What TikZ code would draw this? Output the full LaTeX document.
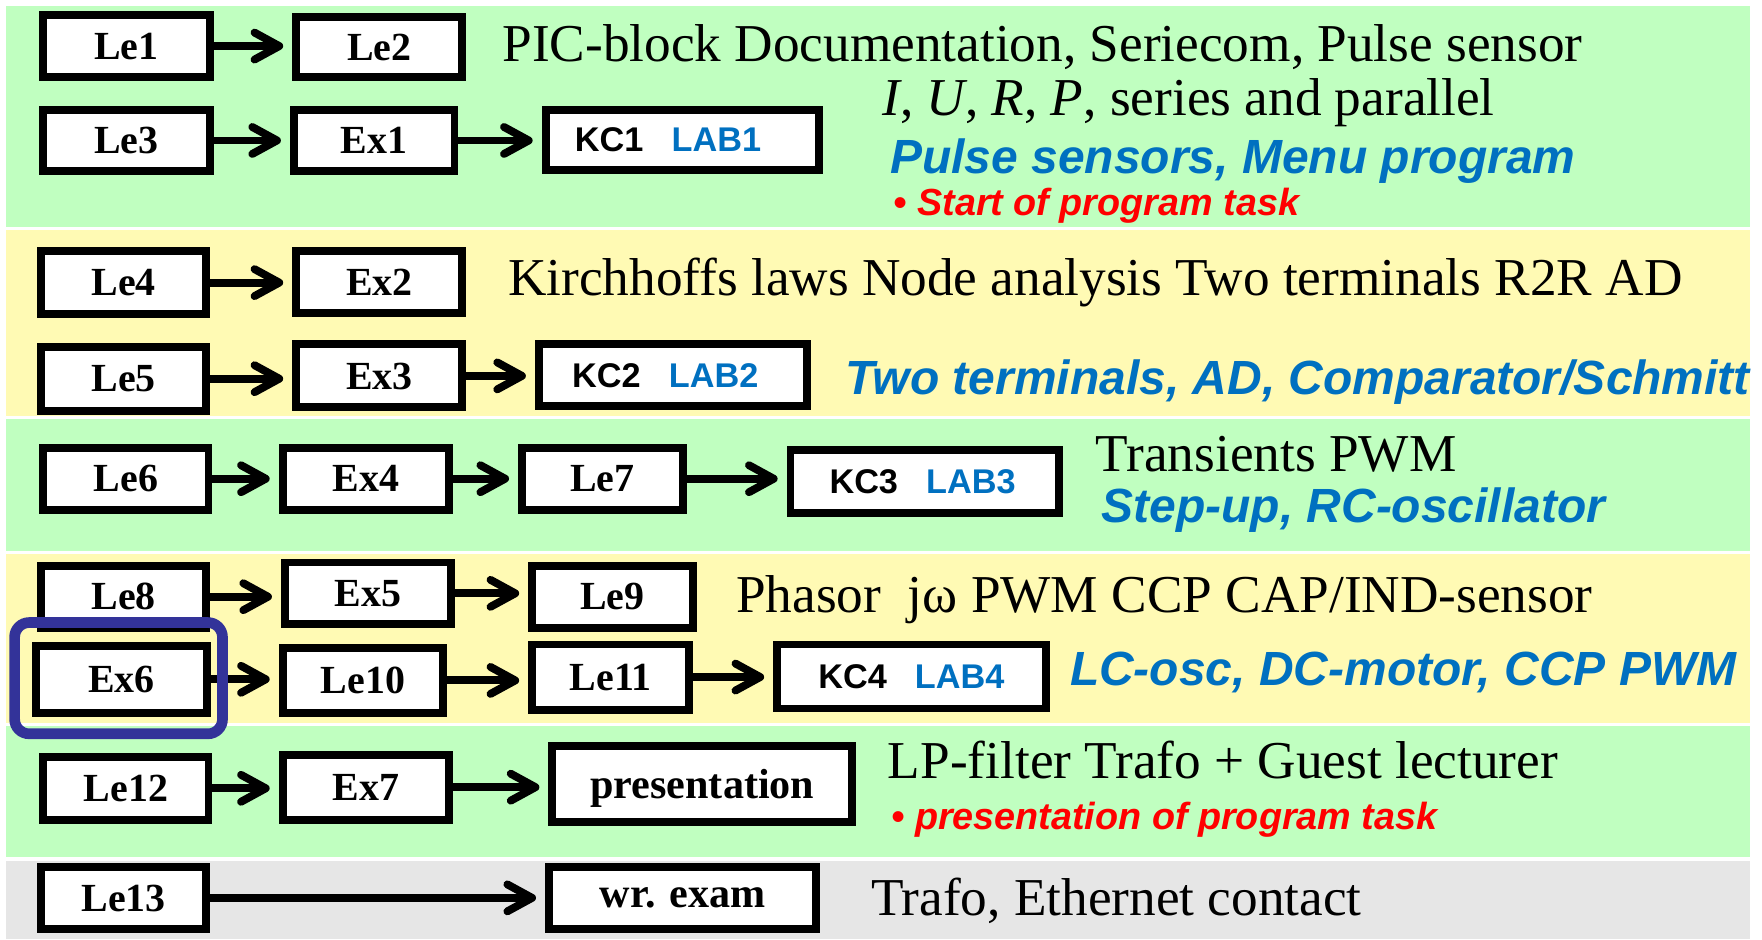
\documentclass[tikz,border=0pt]{standalone}
\usepackage{fontspec}
\setmainfont{Liberation Serif}
\setsansfont{Liberation Sans}
\usetikzlibrary{arrows.meta}
\definecolor{bandgreen}{RGB}{192,255,192}
\definecolor{bandyellow}{RGB}{255,250,180}
\definecolor{bandgrey}{RGB}{230,230,230}
\definecolor{labblue}{RGB}{0,112,192}
\definecolor{markblue}{RGB}{51,51,153}
\definecolor{noteRed}{RGB}{255,0,0}
\newcommand\boxfont{\fontsize{35.5}{38}\selectfont\bfseries}
\newcommand\bigboxfont{\fontsize{37.5}{40}\selectfont\bfseries}
\newcommand\kcfont{\fontsize{30.5}{34}\selectfont\sffamily\bfseries}
\newcommand\mainfont{\fontsize{47.4}{50}\selectfont}
\newcommand\bluefont{\fontsize{42.7}{46}\selectfont\sffamily\bfseries\itshape\color{labblue}}
\newcommand\redfont{\fontsize{33.6}{36}\selectfont\sffamily\bfseries\itshape\color{noteRed}}
% course-component label: black code, blue lab name, trailing shift
\newcommand\kc[3]{{\kcfont #1\hspace{0.82em}\color{labblue}#2}\hspace*{#3}}
\tikzset{
  stage/.style={draw=black, fill=white, line width=7pt, inner sep=0pt,
    minimum width=148pt, minimum height=55pt, font=\boxfont, text depth=0pt},
  flow/.style={line width=7pt, shorten >=8pt,
    -{Straight Barb[length=22pt,width=24pt,round]}},
  note/.style={anchor=base west, inner sep=0pt},
}
\begin{document}
\begin{tikzpicture}[x=1pt, y=-1pt]
\useasboundingbox (0,0) rectangle (1568,836);
% background bands
\fill[bandgreen]  (5,5)   rectangle (1557,202);
\fill[bandyellow] (5,205) rectangle (1557,370);
\fill[bandgreen]  (5,373) rectangle (1557,490);
\fill[bandyellow] (5,493) rectangle (1557,643);
\fill[bandgreen]  (5,646) rectangle (1557,763);
\fill[bandgrey]   (5,766) rectangle (1557,836);

% stages
\node[stage] (le1) at (112.5,41) {Le1};
\node[stage, minimum height=53pt] (le2) at (337.5,42) {Le2};
\node[stage] (le3) at (112.5,125) {Le3};
\node[stage, minimum width=143pt] (ex1) at (333,125) {Ex1};
\node[stage, minimum width=243pt, minimum height=54pt] (kc1) at (607,124.5) {\kc{KC1}{LAB1}{25pt}};

\node[stage, minimum width=147pt, minimum height=56pt] (le4) at (110,251.5) {Le4};
\node[stage] (ex2) at (337.5,251) {Ex2};
\node[stage, minimum width=147pt, minimum height=57pt] (le5) at (110,337) {Le5};
\node[stage, minimum height=56pt] (ex3) at (337.5,334.5) {Ex3};
\node[stage, minimum width=239pt] (kc2) at (599,334) {\kc{KC2}{LAB2}{14pt}};

\node[stage, minimum width=147pt] (le6) at (112,426) {Le6};
\node[stage] (ex4) at (325.5,426) {Ex4};
\node[stage, minimum width=143pt] (le7) at (536,426) {Le7};
\node[stage, minimum width=239pt, minimum height=56pt] (kc3) at (823,428.5) {\kc{KC3}{LAB3}{4pt}};

\node[stage, minimum width=147pt] (le8) at (110,531) {Le8};
\node[stage] (ex5) at (327.5,528) {Ex5};
\node[stage, minimum width=143pt] (le9) at (545,531) {Le9};
\node[stage, minimum width=152pt, minimum height=60pt] (ex6) at (108,604.5) {Ex6};
\node[stage, minimum width=143pt, minimum height=58pt] (le10) at (323,605.5) {Le10};
\node[stage, minimum width=140pt, minimum height=58pt] (le11) at (543.5,602.5) {Le11};
\node[stage, minimum width=239pt, minimum height=57pt] (kc4) at (811,602) {\kc{KC4}{LAB4}{0pt}};

\node[stage, minimum width=147pt, minimum height=56pt] (le12) at (112,701.5) {Le12};
\node[stage, minimum height=58pt] (ex7) at (325.5,700.5) {Ex7};
\node[stage, minimum width=267pt, minimum height=68pt, font=\bigboxfont] (pres) at (625,697.5) {presentation};
\node[stage, minimum width=147pt] (le13) at (110,799) {Le13};
\node[stage, minimum width=238pt, font=\bigboxfont] (exam) at (607.5,799) {wr. exam};

% connectors
\draw[flow] (le1.east) -- (le1.east -| le2.west);
\draw[flow] (le3.east) -- (le3.east -| ex1.west);
\draw[flow] (ex1.east) -- (ex1.east -| kc1.west);
\draw[flow] (le4.east) -- (le4.east -| ex2.west);
\draw[flow] (le5.east) -- (le5.east -| ex3.west);
\draw[flow] (ex3.east) -- (ex3.east -| kc2.west);
\draw[flow] (le6.east) -- (le6.east -| ex4.west);
\draw[flow] (ex4.east) -- (ex4.east -| le7.west);
\draw[flow] (le7.east) -- (le7.east -| kc3.west);
\draw[flow] (le8.east) -- (le8.east -| ex5.west);
\draw[flow] (ex5.east) -- (ex5.east -| le9.west);
\draw[flow] (ex6.east) -- (ex6.east -| le10.west);
\draw[flow] (le10.east) -- (le10.east -| le11.west);
\draw[flow] (le11.east) -- (le11.east -| kc4.west);
\draw[flow] (le12.east) -- (le12.east -| ex7.west);
\draw[flow] (ex7.east) -- (ex7.east -| pres.west);
\draw[flow] (le13.east) -- (le13.east -| exam.west);

% highlight around Ex6
\draw[markblue, line width=9.5pt, rounded corners=13pt] (13,554) rectangle (198,653);

% descriptions
\node[note] (t1) at (447,55) {\mainfont PIC-block Documentation, Seriecom, Pulse sensor};
\node[note] (t2) at (785,103) {\mainfont \textit{I}, \textit{U}, \textit{R}, \textit{P}, series and parallel};
\node[note] (t3) at (792,154) {\bluefont Pulse sensors, Menu program};
\node[note] (t4) at (795,192) {\redfont • Start of program task};
\node[note] (t5) at (452,263) {\mainfont Kirchhoffs laws Node analysis Two terminals R2R AD};
\node[note] (t6) at (752,351) {\bluefont Two terminals, AD, Comparator/Schmitt};
\node[note] (t7) at (975,420) {\mainfont Transients PWM};
\node[note] (t8) at (980,465) {\bluefont Step-up, RC-oscillator};
\node[note] (t9) at (655,545) {\mainfont Phasor\ \ jω PWM CCP CAP/IND-sensor};
\node[note] (t10) at (952,610) {\bluefont LC-osc, DC-motor, CCP PWM};
\node[note] (t11) at (790,693) {\mainfont LP-filter Trafo + Guest lecturer};
\node[note] (t12) at (793,738) {\redfont • presentation of program task};
\node[note] (t13) at (775,815) {\mainfont Trafo, Ethernet contact};
\end{tikzpicture}
\end{document}
